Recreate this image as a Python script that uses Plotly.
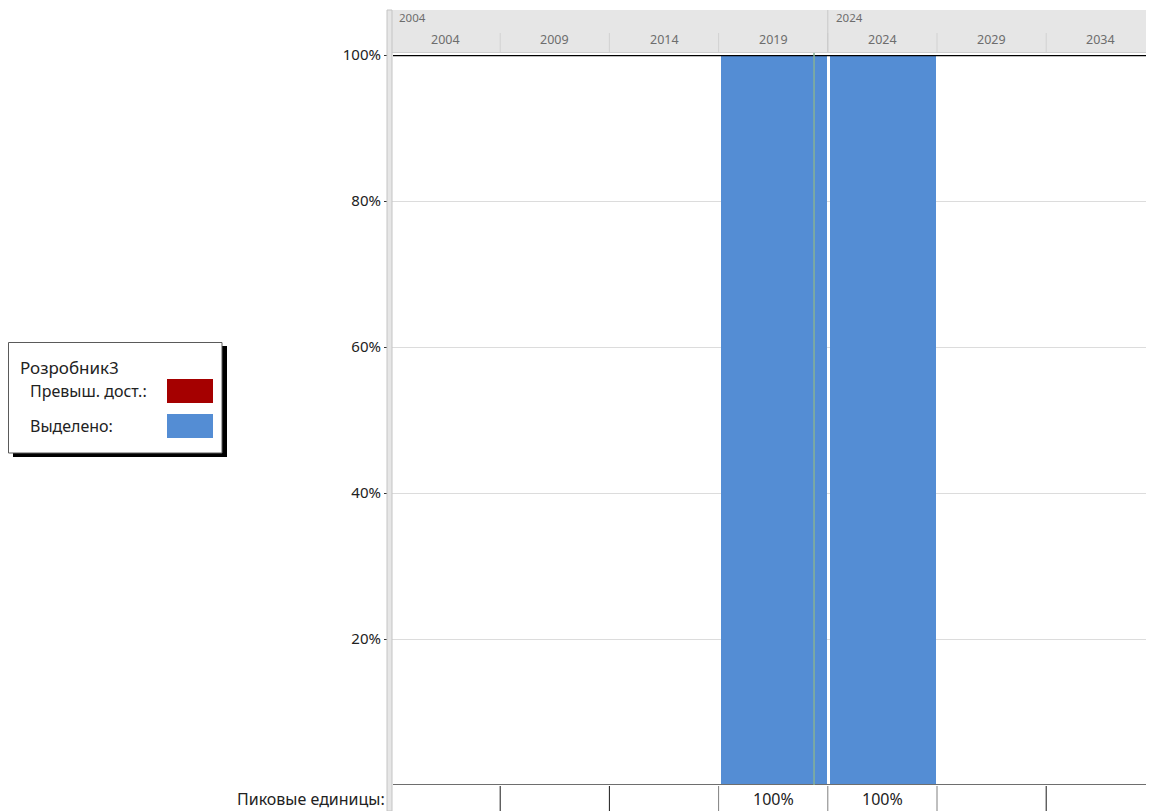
import plotly.graph_objects as go

# Resource graph data: one column per 5-year period
periods = [2004, 2009, 2014, 2019, 2024, 2029, 2034]
period_labels = ["2004", "2009", "2014", "2019", "2024", "2029", "2034"]
major_periods = [2004, 2024]
major_labels = ["2004", "2024"]
allocated = [0, 0, 0, 100, 100, 0, 0]      # Выделено, %
overallocated = [0, 0, 0, 0, 0, 0, 0]      # Превыш. дост., %
status_date = 2023.37

resource_name = "Розробник3"
legend_items = ["Превыш. дост.:", "Выделено:"]
peak_row_label = "Пиковые единицы:"
y_ticks = [20, 40, 60, 80, 100]
y_tick_text = ["20%", "40%", "60%", "80%", "100%"]

BLUE = "#548dd4"
RED = "#a50000"
FONT = "Noto Sans"

W, H = 1154, 811
L, R, T, B = 391, 8, 55, 26
plot_w = W - L - R
plot_h = H - T - B
period_len = 5
px_per_year = 109.2 / period_len
x_min = periods[0]
x_max = x_min + plot_w / px_per_year


def px(x):
    return (x - L) / plot_w


def py(y):
    return (H - B - y) / plot_h


def year_px(year):
    return L + (year - x_min) * px_per_year


fig = go.Figure()

fig.add_trace(go.Bar(
    x=periods, y=overallocated, width=period_len * 0.97, offset=0.1,
    marker=dict(color=RED, line=dict(width=0)), showlegend=False,
    hoverinfo="skip",
))
fig.add_trace(go.Bar(
    x=periods, y=allocated, width=period_len * 0.97, offset=0.1,
    marker=dict(color=BLUE, line=dict(width=0)), showlegend=False,
    hoverinfo="skip",
))

shapes = []
annotations = []

# timescale header
shapes.append(dict(type="rect", xref="paper", yref="paper",
                   x0=px(388), x1=px(1146), y0=py(52), y1=py(10),
                   fillcolor="#e6e6e6", line=dict(width=0), layer="above"))
shapes.append(dict(type="line", xref="paper", yref="paper",
                   x0=px(388), x1=px(1146), y0=py(52.5), y1=py(52.5),
                   line=dict(color="#cfcfcf", width=1), layer="above"))
for p, lab in zip(periods, period_labels):
    x0 = year_px(p)
    if p != periods[0]:
        shapes.append(dict(type="line", xref="paper", yref="paper",
                           x0=px(x0), x1=px(x0), y0=py(52), y1=py(33),
                           line=dict(color="#d2d2d2", width=1), layer="above"))
    xc = x0 + period_len * px_per_year / 2
    annotations.append(dict(text=lab, xref="paper", yref="paper",
                            x=px(xc), y=py(39.5), xanchor="center", yanchor="middle",
                            showarrow=False, font=dict(family=FONT, size=12.5, color="#6d6d6d")))
for p, lab in zip(major_periods, major_labels):
    x0 = year_px(p)
    if p != periods[0]:
        shapes.append(dict(type="line", xref="paper", yref="paper",
                           x0=px(x0), x1=px(x0), y0=py(52), y1=py(10),
                           line=dict(color="#c8c8c8", width=1), layer="above"))
    annotations.append(dict(text=lab, xref="paper", yref="paper",
                            x=px(x0 + 6), y=py(18), xanchor="left", yanchor="middle",
                            showarrow=False, font=dict(family=FONT, size=11.5, color="#6d6d6d")))

# 100% line and baseline
shapes.append(dict(type="line", xref="paper", yref="y", x0=px(393), x1=1, y0=100, y1=100,
                   line=dict(color="#000000", width=2.5), layer="above"))
shapes.append(dict(type="line", xref="paper", yref="y", x0=px(393), x1=1, y0=0, y1=0,
                   line=dict(color="#6e6e6e", width=2), layer="above"))

# status date line
shapes.append(dict(type="line", xref="x", yref="paper", x0=status_date, x1=status_date,
                   y0=0, y1=py(53), line=dict(color="#86b196", width=1.5), layer="above"))

# left splitter strip
shapes.append(dict(type="rect", xref="paper", yref="paper",
                   x0=px(387), x1=px(392), y0=py(811), y1=py(10),
                   fillcolor="#e6e6e6", line=dict(color="#c4c4c4", width=1), layer="above"))

# peak units row
for i, p in enumerate(periods):
    x0 = year_px(p)
    if i > 0:
        busy = allocated[i] > 0 or allocated[i - 1] > 0
        shapes.append(dict(type="line", xref="paper", yref="paper",
                           x0=px(x0), x1=px(x0), y0=py(811), y1=py(786),
                           line=dict(color="#808080" if busy else "#1a1a1a", width=1),
                           layer="above"))
    peak = max(allocated[i], overallocated[i])
    if peak > 0:
        xc = x0 + period_len * px_per_year / 2
        annotations.append(dict(text=f"{peak}%", xref="paper", yref="paper",
                                x=px(xc), y=py(798.5), xanchor="center", yanchor="middle",
                                showarrow=False, font=dict(family=FONT, size=16, color="#222222")))
annotations.append(dict(text=peak_row_label, xref="paper", yref="paper",
                        x=px(387), y=py(798.5), xanchor="right", yanchor="middle",
                        showarrow=False, font=dict(family=FONT, size=16, color="#222222")))

# legend box with shadow
shapes.append(dict(type="rect", xref="paper", yref="paper",
                   x0=px(13), x1=px(227), y0=py(457), y1=py(346),
                   fillcolor="#000000", line=dict(width=0), layer="above"))
shapes.append(dict(type="rect", xref="paper", yref="paper",
                   x0=px(8.5), x1=px(222), y0=py(453), y1=py(342.5),
                   fillcolor="#ffffff", line=dict(color="#5a5a5a", width=1), layer="above"))
annotations.append(dict(text=resource_name, xref="paper", yref="paper",
                        x=px(18), y=py(367), xanchor="left", yanchor="middle",
                        showarrow=False, font=dict(family=FONT, size=17, color="#222222")))
for lab, col, yc in zip(legend_items, [RED, BLUE], [391, 426]):
    annotations.append(dict(text=lab, xref="paper", yref="paper",
                            x=px(28), y=py(yc), xanchor="left", yanchor="middle",
                            showarrow=False, font=dict(family=FONT, size=16, color="#222222")))
    shapes.append(dict(type="rect", xref="paper", yref="paper",
                       x0=px(167), x1=px(213), y0=py(yc + 12), y1=py(yc - 12),
                       fillcolor=col, line=dict(width=0), layer="above"))

fig.update_layout(
    width=W, height=H,
    margin=dict(l=L, r=R, t=T, b=B, pad=0),
    paper_bgcolor="#ffffff", plot_bgcolor="#ffffff",
    barmode="overlay", bargap=0,
    showlegend=False,
    shapes=shapes, annotations=annotations,
    xaxis=dict(range=[x_min, x_max], showticklabels=False, showgrid=False,
               zeroline=False, ticks="", showline=False, fixedrange=True),
    yaxis=dict(range=[0, 100], tickvals=y_ticks, ticktext=y_tick_text,
               showgrid=True, gridcolor="#dcdcdc", gridwidth=1, zeroline=False,
               ticks="outside", ticklen=6, tickcolor="#333333", tickwidth=1,
               tickfont=dict(family=FONT, size=15, color="#222222"),
               showline=False, fixedrange=True),
)

fig.write_html("out.html")
